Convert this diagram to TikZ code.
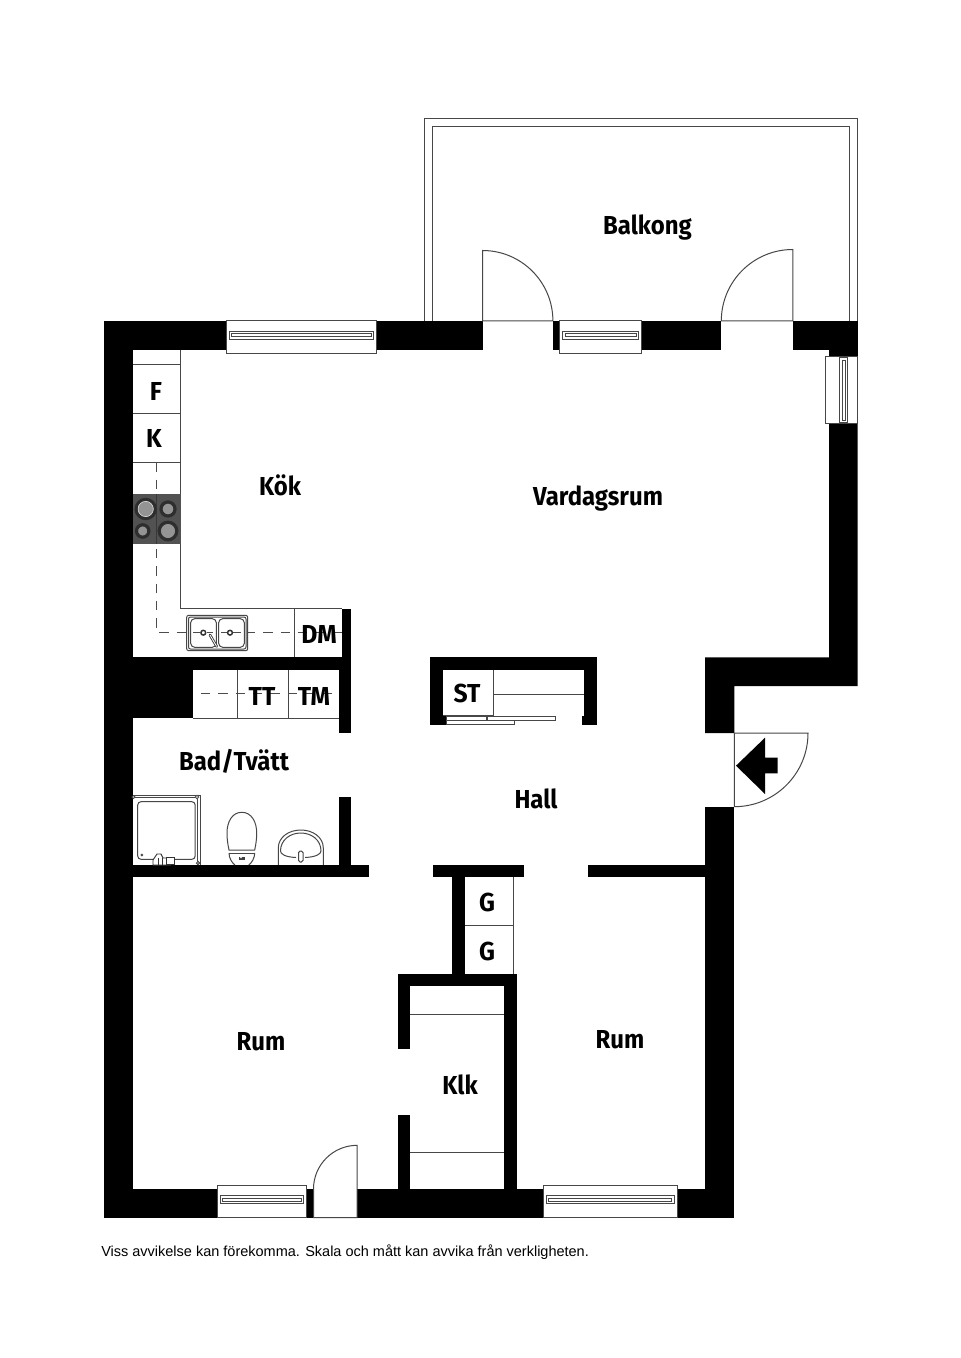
\documentclass[tikz,border=0pt]{standalone}
\usepackage{fontspec}
\setmainfont{Liberation Sans}
\newfontfamily\labelfont{Fira Sans}[UprightFont=* Bold,FakeStretch=0.92]
\newfontfamily\unitfont{Fira Sans}[UprightFont=* Bold,FakeStretch=0.95]
\tikzset{
  wall/.style={fill=black,draw=none},
  thin line/.style={draw=black!72,line width=0.75pt},
  dash line/.style={draw=black!70,line width=0.8pt,dash pattern=on 7pt off 6pt},
  room/.style={font=\labelfont\fontsize{19.5}{22}\selectfont,text=black,inner sep=0pt},
  unit/.style={font=\unitfont\fontsize{19.5}{22}\selectfont,text=black,inner sep=0pt},
  burner/.style={fill=black!42,draw=black!82,line width=2.4pt},
}
\newcommand{\hwin}[4]{% x1 x2 ytop ybottom
  \draw[thin line,fill=white] (#1,#3) rectangle (#2,#4);
  \draw[thin line,fill=white] ({#1+3},{#3+10.5}) rectangle ({#2-3},{#3+18.5});
  \draw[thin line] ({#1+5.5},{#3+13}) rectangle ({#2-5.5},{#3+16});
}
\begin{document}
\begin{tikzpicture}[x=0.75pt,y=-0.75pt]
\useasboundingbox (0,0) rectangle (960,1358);
\fill[white] (0,0) rectangle (960,1358);

% balcony
\draw[thin line] (424,321) -- (424,118.3) -- (857.7,118.3) -- (857.7,321);
\draw[thin line] (432,321) -- (432,126.3) -- (849.7,126.3) -- (849.7,321);

% outer walls
\fill[wall] (103.5,321) rectangle (132.5,1217.7);
\fill[wall] (103.5,321) rectangle (226.7,350);
\fill[wall] (376,321) rectangle (482.5,350);
\fill[wall] (552.8,321) rectangle (560,350);
\fill[wall] (640.5,321) rectangle (721,350);
\fill[wall] (792.8,321) rectangle (857.7,350);
\fill[wall] (829,350) rectangle (857.7,358);
\fill[wall] (829,423) -- (857.7,423) -- (857.7,686) -- (734.3,686) -- (734.3,733) -- (705,733) -- (705,657.3) -- (829,657.3) -- cycle;
\fill[wall] (705,806.7) rectangle (734.3,1217.7);
\fill[wall] (103.5,1189) rectangle (217,1217.7);
\fill[wall] (306,1189) rectangle (313.5,1217.7);
\fill[wall] (357,1189) rectangle (543,1217.7);
\fill[wall] (677,1189) rectangle (734.3,1217.7);

% kitchen / bath walls
\fill[wall] (132.5,657.3) rectangle (351,669.7);
\fill[wall] (342.3,608.5) rectangle (351,669.7);
\fill[wall] (339,669.7) rectangle (351,732.7);
\fill[wall] (132.5,669.7) rectangle (193.3,718);
\fill[wall] (339,796.7) rectangle (351,865);
\fill[wall] (132.5,865) rectangle (369,877.3);

% closet ST
\fill[wall] (430,657.3) rectangle (597,669.7);
\fill[wall] (430,669.7) rectangle (443,725);
\fill[wall] (443,715.7) rectangle (446,725);
\fill[wall] (584,669.7) rectangle (597,725);
\fill[wall] (582.3,715.7) rectangle (584,725);

% hall walls, wardrobes, Klk
\fill[wall] (432.7,865) rectangle (524.3,877.3);
\fill[wall] (588.3,865) rectangle (705,877.3);
\fill[wall] (452,877.3) rectangle (465,974);
\fill[wall] (397.7,973.7) rectangle (516.7,986.3);
\fill[wall] (397.7,986.3) rectangle (410.3,1048.7);
\fill[wall] (397.7,1115.3) rectangle (410.3,1189);
\fill[wall] (504,986.3) rectangle (516.7,1189);

% windows
\hwin{226.3}{376.5}{321}{353.5}
\hwin{559.5}{641.5}{321}{353.7}
\hwin{217}{306.5}{1185}{1217.7}
\hwin{543}{677}{1185}{1217.7}
% right window (vertical)
\draw[thin line,fill=white] (825,356.7) rectangle (857.7,423.3);
\draw[thin line,fill=white] (839.3,358) rectangle (847.3,422.5);
\draw[thin line] (842,361) rectangle (845,420);

% doors
\draw[thin line] (482.5,321) -- (482.5,250.5) arc[start angle=-90,end angle=0,radius=70.4] -- cycle;
\draw[thin line] (792.8,321) -- (792.8,249.5) arc[start angle=-90,end angle=-180,radius=71.5] -- cycle;
\draw[thin line] (734.3,733) -- (808,733) arc[start angle=0,end angle=90,radius=73.7] -- cycle;
\fill[black] (736,765.7) -- (765,737.7) -- (765,757.7) -- (777.7,757.7) -- (777.7,773.3) -- (765,773.3) -- (765,794) -- cycle;
\draw[thin line] (313.5,1217.7) -- (313.5,1189) arc[start angle=180,end angle=270,radius=43.7] -- (357.2,1217.7) -- cycle;

% kitchen counter
\draw[thin line] (180.7,350) -- (180.7,608.5) -- (342.3,608.5);
\draw[thin line] (132.5,365) -- (180.7,365);
\draw[thin line] (132.5,413.7) -- (180.7,413.7);
\draw[thin line] (132.5,462.3) -- (180.7,462.3);
\draw[thin line] (294,608.5) -- (294,657.3);
\draw[dash line] (156.5,462.3) -- (156.5,632.7) -- (342.3,632.7);
% hob
\fill[black!68] (132.5,494.3) rectangle (180.7,543.7);
\draw[black!78,line width=0.4pt] (156.5,494.3) -- (156.5,543.7);
\draw[burner] (145.7,509) circle[radius=9.6];
\draw[black!12,line width=0.4pt] (145.7,509) circle[radius=7.6];
\draw[burner] (168,509) circle[radius=7];
\draw[burner] (142.7,531) circle[radius=6.2];
\draw[burner] (168,531) circle[radius=8.8];
% sink
\draw[thin line,fill=white,rounded corners=1.5pt] (186.7,615.3) rectangle (247.7,650.7);
\draw[thin line,rounded corners=1.5pt] (188.5,617) rectangle (246,649);
\draw[thin line,fill=white,rounded corners=3pt] (190.7,618.7) rectangle (216.3,647.3);
\draw[thin line,fill=white,rounded corners=3pt] (218.7,618.7) rectangle (244.3,647.3);
\draw[black!80,line width=1.1pt,fill=white] (203.3,632.7) circle[radius=2.4];
\draw[black!80,line width=1.1pt,fill=white] (230,632.7) circle[radius=2.4];
\draw[dash line,dash pattern=on 5pt off 0pt] (193,632.7) -- (200,632.7) (206.5,632.7) -- (213,632.7) (221,632.7) -- (227,632.7) (233,632.7) -- (240,632.7);
\draw[black!75,line width=2pt,line cap=round] (210,635) -- (216.7,646.5);
\draw[white,line width=0.6pt] (210,635) -- (216.7,646.5);

% TT/TM cabinets
\draw[thin line] (193.3,718) -- (339,718);
\draw[thin line] (237.3,669.7) -- (237.3,718);
\draw[thin line] (288.3,669.7) -- (288.3,718);
\draw[dash line] (201,693.7) -- (339,693.7);

% shower
\draw[thin line] (132.5,795) -- (200,795) -- (200,865);
\draw[thin line] (132.5,797.5) -- (197.5,797.5) -- (197.5,865);
\draw[thin line,rounded corners=2.5pt] (137.7,801.7) rectangle (195.2,859.3);
\fill[black!70] (141.8,855) circle[radius=1.5];
\draw[black!70,fill=white,line width=0.7pt] (133.5,797) circle[radius=1.5];
\draw[black!70,fill=white,line width=0.7pt] (197,797) circle[radius=1.8];
\draw[black!70,fill=white,line width=0.7pt] (198,863) circle[radius=1.6];
\draw[black!80,fill=white,line width=0.7pt] (153,865) -- (153,860) -- (157,854) -- (161,854) -- (163,858) -- (171,858) -- (171,865) -- cycle;
\draw[black!80,fill=white,line width=0.7pt] (166,857) rectangle (174,864);
\draw[black!80,line width=0.7pt] (158,865) -- (158,858) (162,865) -- (162,858);

% toilet
\draw[thin line] (241.8,812.3) .. controls (232,812.3) and (227,822) .. (227,833) .. controls (227,840) and (228,845) .. (229,850) -- (254.7,850) .. controls (255.7,845) and (256.7,840) .. (256.7,833) .. controls (256.7,822) and (251.6,812.3) .. (241.8,812.3) -- cycle;
\draw[thin line] (229,853) -- (254.7,853);
\draw[thin line] (229,853) .. controls (229,858) and (232,863) .. (235,865);
\draw[thin line] (254.7,853) .. controls (254.7,858) and (251.7,863) .. (248.7,865);
\fill[black!75] (238.5,856.5) rectangle (245,860);
\fill[white] (241,857.5) circle[radius=0.9];

% wash basin
\draw[thin line] (278.3,865) -- (278.3,848) .. controls (278.3,837) and (289,830) .. (300.8,830) .. controls (312.6,830) and (323.3,837) .. (323.3,848) -- (323.3,865);
\draw[thin line] (280.5,851) .. controls (280.5,840) and (290,833) .. (300.8,833) .. controls (311.6,833) and (321,840) .. (321,851) .. controls (321,854) and (316,857) .. (305,857.5) (296,857.5) .. controls (285,857) and (280.5,854) .. (280.5,851);
\draw[thin line,fill=white,rounded corners=1.2pt] (298.5,851) rectangle (303,862);

% ST closet fittings
\draw[thin line] (443,715.7) -- (493.3,715.7) -- (493.3,669.7);
\draw[thin line] (493.3,694.3) -- (584,694.3);
\draw[thin line,fill=white] (446,716.5) rectangle (486.3,720);
\draw[thin line,fill=white] (487,716.5) rectangle (555.7,720);
\draw[thin line,fill=white] (446,720.5) rectangle (514.5,724.5);

% wardrobes
\draw[thin line] (513,877.3) -- (513,973.7);
\draw[thin line] (465,925.7) -- (513,925.7);

% Klk shelves
\draw[thin line] (410.3,1014.3) -- (504,1014.3);
\draw[thin line] (410.3,1152.7) -- (504,1152.7);

% labels
\node[room] (balkong) at (647.5,228) {Balkong};
\node[room] (kok) at (280,485.5) {Kök};
\node[room] (vardagsrum) at (598,499) {Vardagsrum};
\node[room] (badtvatt) at (234,761) {Bad/Tvätt};
\node[room] (hall) at (536,799) {Hall};
\node[room] (rumL) at (261,1042) {Rum};
\node[room] (rumR) at (620,1040) {Rum};
\node[room] (klk) at (460,1085) {Klk};
\node[unit] (f) at (156,391) {F};
\node[unit] (k) at (154,438) {K};
\node[unit] (dm) at (319,634) {DM};
\node[unit] (tt) at (262,696) {TT};
\node[unit] (tm) at (314,696) {TM};
\node[unit] (st) at (467,693) {ST};
\node[unit] (g1) at (487,902) {G};
\node[unit] (g2) at (487,951) {G};
\node[anchor=base west,inner sep=0pt,font=\fontsize{10.87}{12}\selectfont,text=black] (note) at (101,1256) {Viss avvikelse kan förekomma. Skala och mått kan avvika från verkligheten.};
\end{tikzpicture}
\end{document}
